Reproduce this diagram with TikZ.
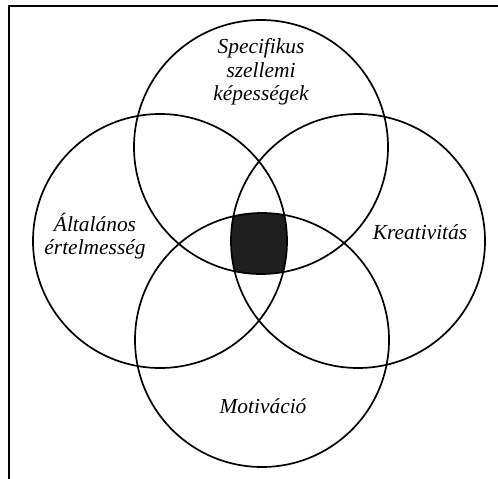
\documentclass[tikz,border=0pt]{standalone}
\usepackage{fontspec}
\setmainfont{Liberation Serif}
\begin{document}
\begin{tikzpicture}[x=1bp,y=-1bp,
  ring/.style={draw=black,line width=1.7bp},
  frame/.style={draw=black,line width=2.2bp},
  lbl/.style={font=\fontsize{21.5}{23.5}\selectfont\itshape,align=center,inner sep=0pt}]
\useasboundingbox (0,0) rectangle (498,479);
\coordinate (ct) at (261,147);
\coordinate (cl) at (160,241);
\coordinate (cr) at (358,241);
\coordinate (cb) at (262,340);
\begin{scope}
  \clip (ct) circle[radius=127];
  \clip (cl) circle[radius=127];
  \clip (cr) circle[radius=127];
  \fill[black!88] (cb) circle[radius=127];
\end{scope}
\draw[ring] (ct) circle[radius=127];
\draw[ring] (cl) circle[radius=127];
\draw[ring] (cr) circle[radius=127];
\draw[ring] (cb) circle[radius=127];
\coordinate (fa) at (9,479);
\coordinate (fb) at (9,6);
\coordinate (fc) at (498,6);
\draw[frame] (fa) -- (fb) -- (fc);
\node[lbl] (spec) at (261,72) {Specifikus\\szellemi\\képességek};
\node[lbl] (alt) at (95,236) {Általános\\értelmesség};
\node[lbl] (kre) at (420,232) {Kreativitás};
\node[lbl] (mot) at (263,406) {Motiváció};
\end{tikzpicture}
\end{document}
